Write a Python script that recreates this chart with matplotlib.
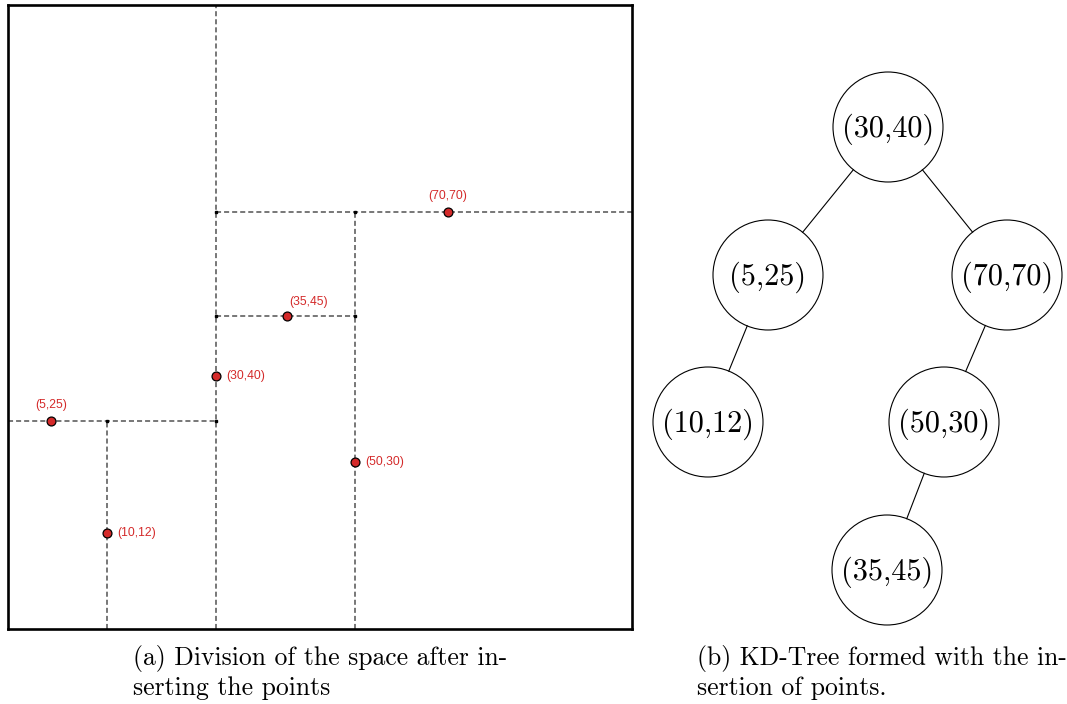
import matplotlib
matplotlib.use('Agg')
from matplotlib import pyplot as plt
from matplotlib.patches import Circle
import numpy as np

# points inserted into the tree (insertion order)
labels = ['(30,40)', '(5,25)', '(70,70)', '(10,12)', '(50,30)', '(35,45)']
values = [(30, 40), (5, 25), (70, 70), (10, 12), (50, 30), (35, 45)]
# where each point is drawn in the left panel (panel units 0..100)
draw_x = [33.3, 6.9, 70.5, 15.9, 55.6, 44.7]
draw_y = [40.5, 33.3, 66.8, 15.4, 26.8, 50.2]
# label placement relative to point
label_side = ['right', 'up', 'up', 'right', 'right', 'upright']

# tree layout (pixel coordinates of node centres)
node_x = [888, 768, 1007, 708, 944, 887]
node_y = [127, 275, 275, 422, 422, 570]
node_r = 55

cap_a = ['(a) Division of the space after in-', 'serting the points']
cap_b = ['(b) KD-Tree formed with the in-', 'sertion of points.']

W, H = 1067, 704
fig = plt.figure(figsize=(W / 100, H / 100), dpi=100)

# ---- build kd tree, keep the region each node splits ----
parent = [-1] * len(values)
depth = [0] * len(values)
bounds = [None] * len(values)
bounds[0] = [0, 100, 0, 100]
for i in range(1, len(values)):
    cur = 0
    b = [0, 100, 0, 100]
    d = 0
    while True:
        k = d % 2
        go_left = values[i][k] < values[cur][k]
        split = draw_x[cur] if k == 0 else draw_y[cur]
        if k == 0:
            if go_left:
                b[1] = split
            else:
                b[0] = split
        else:
            if go_left:
                b[3] = split
            else:
                b[2] = split
        child = None
        for j in range(1, i):
            if parent[j] == cur and (values[j][k] < values[cur][k]) == go_left:
                child = j
        d += 1
        if child is None:
            parent[i] = cur
            depth[i] = d
            bounds[i] = list(b)
            break
        cur = child

# ---- left panel ----
L, T, R, B = 8, 5, 632, 629
ax = fig.add_axes([L / W, (H - B) / H, (R - L) / W, (B - T) / H])
ax.set_xlim(0, 100)
ax.set_ylim(0, 100)
ax.set_xticks([])
ax.set_yticks([])
for s in ax.spines.values():
    s.set_linewidth(1.9)
    s.set_color('black')
    s.set_zorder(10)

dash = dict(color='#727272', lw=1.35, ls=(0, (2.7, 1.6)), zorder=2)
corner_x, corner_y = [], []
for i in range(len(values)):
    x0, x1, y0, y1 = bounds[i]
    if depth[i] % 2 == 0:
        ax.plot([draw_x[i], draw_x[i]], [y0, y1], **dash)
        for yy in (y0, y1):
            if 0 < yy < 100:
                corner_x.append(draw_x[i]); corner_y.append(yy)
    else:
        ax.plot([x0, x1], [draw_y[i], draw_y[i]], **dash)
        for xx in (x0, x1):
            if 0 < xx < 100:
                corner_x.append(xx); corner_y.append(draw_y[i])
ax.plot(corner_x, corner_y, 's', color='black', ms=1.6, zorder=3)

ax.plot(draw_x, draw_y, 'o', color='#d42a2a', mec='black', mew=0.9, ms=6.4, zorder=5)
red_txt = dict(textcoords='offset points', color='#d42a2a', fontsize=8.7,
               family='Liberation Sans', zorder=6)
for i, lab in enumerate(labels):
    side = label_side[i]
    if side == 'right':
        ax.annotate(lab, (draw_x[i], draw_y[i]), xytext=(7.5, 0),
                    ha='left', va='center', **red_txt)
    elif side == 'up':
        ax.annotate(lab, (draw_x[i], draw_y[i]), xytext=(0, 7),
                    ha='center', va='bottom', **red_txt)
    else:
        ax.annotate(lab, (draw_x[i], draw_y[i]), xytext=(2, 5.5),
                    ha='left', va='bottom', **red_txt)

# ---- tree panel + captions (pixel coords over whole figure) ----
tx = fig.add_axes([0, 0, 1, 1], zorder=-1)
tx.set_xlim(0, W)
tx.set_ylim(H, 0)
tx.axis('off')

for i in range(len(labels)):
    tx.add_patch(Circle((node_x[i], node_y[i]), node_r, fill=False, ec='black', lw=0.8))
    tx.text(node_x[i], node_y[i] + 2, labels[i], ha='center', va='center',
            family='cmr10', fontsize=21.8)
    p = parent[i]
    if p >= 0:
        dx = node_x[i] - node_x[p]
        dy = node_y[i] - node_y[p]
        n = np.hypot(dx, dy)
        ux, uy = dx / n, dy / n
        tx.plot([node_x[p] + ux * node_r, node_x[i] - ux * node_r],
                [node_y[p] + uy * node_r, node_y[i] - uy * node_r],
                color='black', lw=0.8)

for k, line in enumerate(cap_a):
    tx.text(133, 665 + 30 * k, line, ha='left', va='baseline', family='cmr10', fontsize=18.5)
for k, line in enumerate(cap_b):
    tx.text(697, 665 + 30 * k, line, ha='left', va='baseline', family='cmr10', fontsize=18.5)

fig.savefig('out.png', dpi=100)
